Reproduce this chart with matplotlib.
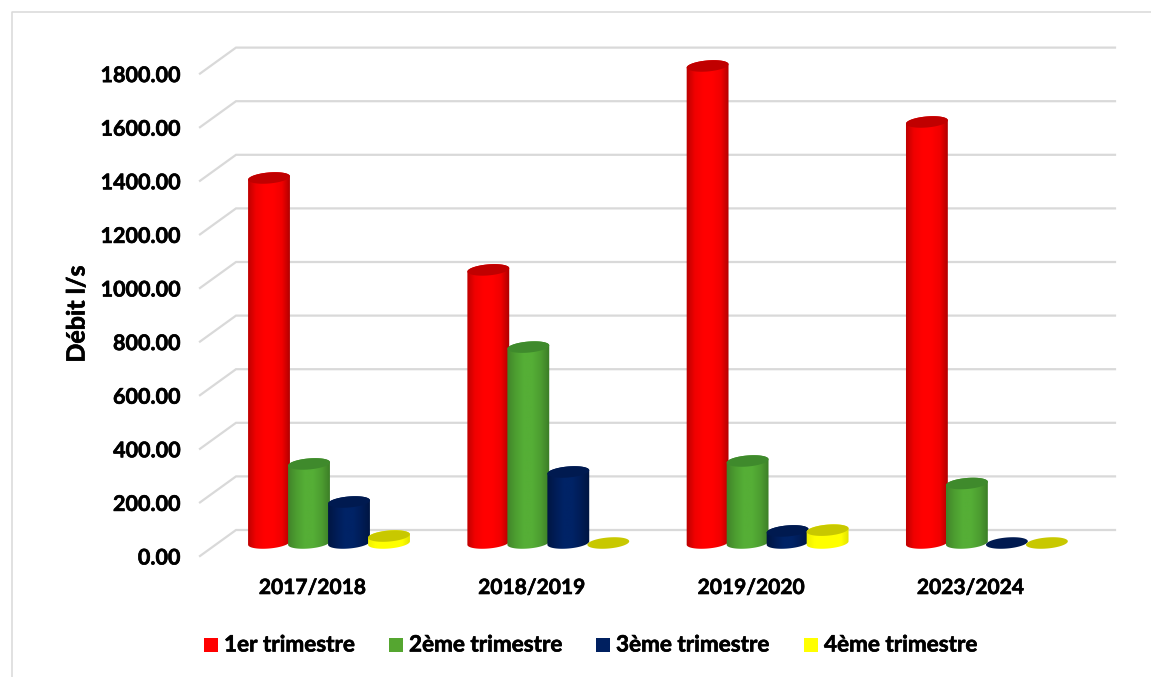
import numpy as np
import matplotlib
matplotlib.use("Agg")
import matplotlib.pyplot as plt
import matplotlib.patheffects as pe
from matplotlib.patches import Polygon, PathPatch, Rectangle
from matplotlib.path import Path
from matplotlib.colors import LinearSegmentedColormap

categories = ["2017/2018", "2018/2019", "2019/2020", "2023/2024"]
series = ["1er trimestre", "2ème trimestre", "3ème trimestre", "4ème trimestre"]
t1 = [1362, 1019, 1780, 1571]
t2 = [295, 731, 306, 222]
t3 = [153, 265, 45, 0]
t4 = [26, 0, 48, 0]
values = [t1, t2, t3, t4]
ticks = [0, 200, 400, 600, 800, 1000, 1200, 1400, 1600, 1800]

W, H = 1151, 677
PXX = 219.3      # px per category
PXY = 0.268      # px per unit
X0, Y0 = 329, 543
plt.rcParams['font.family'] = ['Lato', 'DejaVu Sans']
plt.rcParams['font.weight'] = 'bold'
BOLD = [pe.withStroke(linewidth=0.45, foreground="black")]

fig = plt.figure(figsize=(W / 100, H / 100), dpi=100)
ax = fig.add_axes([0, 0, 1, 1])
ax.set_xlim(-X0 / PXX, (W - X0) / PXX)
ax.set_ylim((Y0 - H) / PXY, Y0 / PXY)
ax.axis("off")

def dx(p): return p / PXX
def dy(p): return p / PXY

GRID = "#d9d9d9"
SCALE = 53.6 / 200 / PXY
for t in ticks:
    y = t * SCALE
    xl, xb, xr = dx(200 - X0), dx(236 - X0), dx(1115 - X0)
    ax.plot([xl, xb, xr], [y - dy(13), y + dy(13), y + dy(13)],
            color=GRID, lw=1.6, solid_joinstyle="miter", zorder=1)
    ax.text(dx(180 - X0), y - dy(15), f"{t:.2f}", ha="right", va="center", fontsize=15.5,
            color="black", path_effects=BOLD)

for i, c in enumerate(categories):
    ax.text(i - dx(16.5), dy(-45), c, ha="center", va="center", fontsize=15.1, color="black", path_effects=BOLD)
ax.text(dx(77 - X0), dy(543 - 314), "Débit l/s", rotation=90, ha="center", va="center",
        fontsize=18, color="black", path_effects=BOLD)

palette = [
    (["#b80000", "#f00000", "#ff0000", "#ff0000", "#f00000", "#a80000"], "#c00000"),
    (["#3f8029", "#4c9c30", "#55ae36", "#55ae36", "#4c9c30", "#3a7a26"], "#3f8a2c"),
    (["#001540", "#001c55", "#002366", "#002366", "#001c55", "#001540"], "#001a50"),
    (["#eeee00", "#ffff00", "#ffff00", "#ffff00", "#ffff00", "#dddd00"], "#c8c800"),
]

A, B, TILT = 21, 5.5, np.deg2rad(5)
def ellipse(cx, cy, t):
    """cx in data x, cy in data y; returns vertices with pixel-sized radii."""
    ex = A * np.cos(t) * np.cos(TILT) - B * np.sin(t) * np.sin(TILT)
    ey = A * np.cos(t) * np.sin(TILT) + B * np.sin(t) * np.cos(TILT)
    return np.column_stack([cx + dx(ex), cy + dy(ey)])

grad = np.linspace(0, 1, 256)[None, :]
tfull = np.linspace(0, 2 * np.pi, 90)
for s, vals in enumerate(values):
    cols, top = palette[s]
    cmap = LinearSegmentedColormap.from_list(f"c{s}", cols)
    for i, v in enumerate(vals):
        cx = i + dx((s - 1.5) * 40)
        if v > 0:
            lower = ellipse(cx, 0, np.linspace(np.pi, 2 * np.pi, 50))
            upper = ellipse(cx, v, np.linspace(0, np.pi, 50))
            verts = np.vstack([lower, upper, lower[:1]])
            path = Path(verts)
            patch = PathPatch(path, transform=ax.transData, fc="none", ec="none")
            ax.add_patch(patch)
            im = ax.imshow(grad, extent=[cx - dx(A + 1), cx + dx(A + 1), -dy(12), v + dy(12)],
                           cmap=cmap, aspect="auto", zorder=3 + s * 0.1, interpolation="bilinear")
            im.set_clip_path(patch)
        ax.add_patch(Polygon(ellipse(cx, v, tfull), closed=True, fc=top, ec="none", zorder=3.05 + s * 0.1))

ax.set_xlim(-X0 / PXX, (W - X0) / PXX)
ax.set_ylim((Y0 - H) / PXY, Y0 / PXY)

# legend
for x, lab, col in zip([204, 389, 596, 804], series, ["#ff0000", "#55a630", "#002060", "#ffff00"]):
    ax.add_patch(Rectangle((dx(x - X0), dy(Y0 - 652)), dx(14), dy(14), fc=col, ec="none", zorder=3))
    ax.text(dx(x + 20 - X0), dy(Y0 - 645), lab, ha="left", va="center", fontsize=16.2, color="black", path_effects=BOLD)

# frame of the chart area
ax.plot([dx(11.5 - X0), dx(11.5 - X0), dx(1151 - X0)],
        [dy(Y0 - 677), dy(Y0 - 12), dy(Y0 - 12)], color="#d9d9d9", lw=1.1, clip_on=True, zorder=1)

fig.savefig("out.png", dpi=100, facecolor="white")
